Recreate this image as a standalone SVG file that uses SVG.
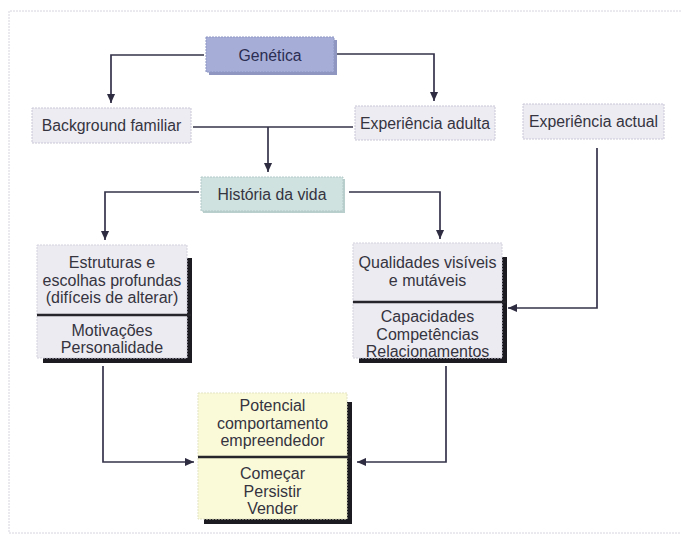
<svg xmlns="http://www.w3.org/2000/svg" width="681" height="539" viewBox="0 0 681 539">
  <style>
    text { font-family: "Liberation Sans", Arial, sans-serif; fill: #35343f; text-anchor: middle; }
    .s { font-size: 15.8px; }
    .b { font-size: 16px; }
    .small { fill: #edecf3; stroke: #c9c7d6; stroke-width: 1; stroke-dasharray: 2 1; }
    .big { fill: #ecebf1; stroke: #d3d1dd; stroke-width: 1; stroke-dasharray: 2 1; }
    .yel { fill: #fafad9; stroke: #e3e3c4; stroke-width: 1; stroke-dasharray: 2 1; }
    .shadow { fill: #1c1b22; }
    .divider { stroke: #26252c; stroke-width: 2.5; }
    .conn { fill: none; stroke: #35334a; stroke-width: 1.7; }
    .frame { fill: none; stroke: #d6d6de; stroke-width: 1; stroke-dasharray: 2 1; }
  </style>
  <defs>
    <marker id="arrow" markerUnits="userSpaceOnUse" markerWidth="9" markerHeight="9" viewBox="0 0 10 10" refX="10" refY="5" orient="auto">
      <path d="M0,0.5 L10,5 L0,9.5 Z" fill="#2e2c40"/>
    </marker>
  </defs>

  <rect width="681" height="539" fill="#ffffff"/>
  <!-- outer frame: top, left and bottom edges -->
  <path class="frame" d="M681,11 H9 V533 H681"/>

  <g id="connectors">
    <path class="conn" d="M204,55 H111 V103" marker-end="url(#arrow)"/>
    <path class="conn" d="M336,54 H434 V101" marker-end="url(#arrow)"/>
    <path class="conn" d="M193,127 H353"/>
    <path class="conn" d="M268,127 V172" marker-end="url(#arrow)"/>
    <path class="conn" d="M199,192 H105 V240" marker-end="url(#arrow)"/>
    <path class="conn" d="M349,192 H440 V239" marker-end="url(#arrow)"/>
    <path class="conn" d="M597,148 V308 H508" marker-end="url(#arrow)"/>
    <path class="conn" d="M103,366 V462 H194" marker-end="url(#arrow)"/>
    <path class="conn" d="M446,366 V462 H357" marker-end="url(#arrow)"/>
  </g>

  <g id="genetica">
    <rect x="209" y="40" width="128" height="35" fill="#8f96c0"/>
    <rect x="206" y="37" width="128" height="35" fill="#a6aed8" stroke="#8d95c2" stroke-width="1" stroke-dasharray="2 1"/>
    <text class="s" x="270" y="60.5" style="fill:#2b2d52">Genética</text>
  </g>

  <g id="background-familiar">
    <rect class="small" x="32" y="108" width="159" height="35"/>
    <text class="s" x="111.5" y="131">Background familiar</text>
  </g>

  <g id="experiencia-adulta">
    <rect class="small" x="355" y="106" width="140" height="34"/>
    <text class="s" x="425" y="128.5">Experiência adulta</text>
  </g>

  <g id="experiencia-actual">
    <rect class="small" x="523" y="104" width="141" height="35"/>
    <text class="s" x="593.5" y="127">Experiência actual</text>
  </g>

  <g id="historia-da-vida">
    <rect x="203" y="179" width="142" height="34" fill="#b9cfcd"/>
    <rect x="201" y="177" width="142" height="34" fill="#cfe2e0" stroke="#b3cac8" stroke-width="1" stroke-dasharray="2 1"/>
    <text class="s" x="272" y="199.5">História da vida</text>
  </g>

  <g id="estruturas">
    <path class="shadow" d="M187,258 H192 V363 H43 V358 H187 Z"/>
    <rect class="big" x="37" y="245" width="150" height="113"/>
    <line class="divider" x1="37" y1="315" x2="191" y2="315"/>
    <text class="b" x="112" y="267.5">Estruturas e</text>
    <text class="b" x="112" y="285.5">escolhas profundas</text>
    <text class="b" x="112" y="302.5">(difíceis de alterar)</text>
    <text class="b" x="112" y="335.5">Motivações</text>
    <text class="b" x="112" y="352.5">Personalidade</text>
  </g>

  <g id="qualidades">
    <path class="shadow" d="M502,257 H507 V363 H359 V358 H502 Z"/>
    <rect class="big" x="353" y="243" width="149" height="115"/>
    <line class="divider" x1="353" y1="302" x2="506" y2="302"/>
    <text class="b" x="427.5" y="267.5">Qualidades visíveis</text>
    <text class="b" x="427.5" y="285.5">e mutáveis</text>
    <text class="b" x="427.5" y="321.5">Capacidades</text>
    <text class="b" x="427.5" y="339.5">Competências</text>
    <text class="b" x="427.5" y="357">Relacionamentos</text>
  </g>

  <g id="potencial">
    <path class="shadow" d="M347,402 H352 V524 H204 V519 H347 Z"/>
    <rect class="yel" x="198" y="393" width="149" height="126"/>
    <line class="divider" x1="198" y1="457" x2="351" y2="457"/>
    <text class="b" x="272.5" y="410.5">Potencial</text>
    <text class="b" x="272.5" y="428.5">comportamento</text>
    <text class="b" x="272.5" y="445.5">empreendedor</text>
    <text class="b" x="272.5" y="478.5">Começar</text>
    <text class="b" x="272.5" y="497">Persistir</text>
    <text class="b" x="272.5" y="513.5">Vender</text>
  </g>
</svg>
